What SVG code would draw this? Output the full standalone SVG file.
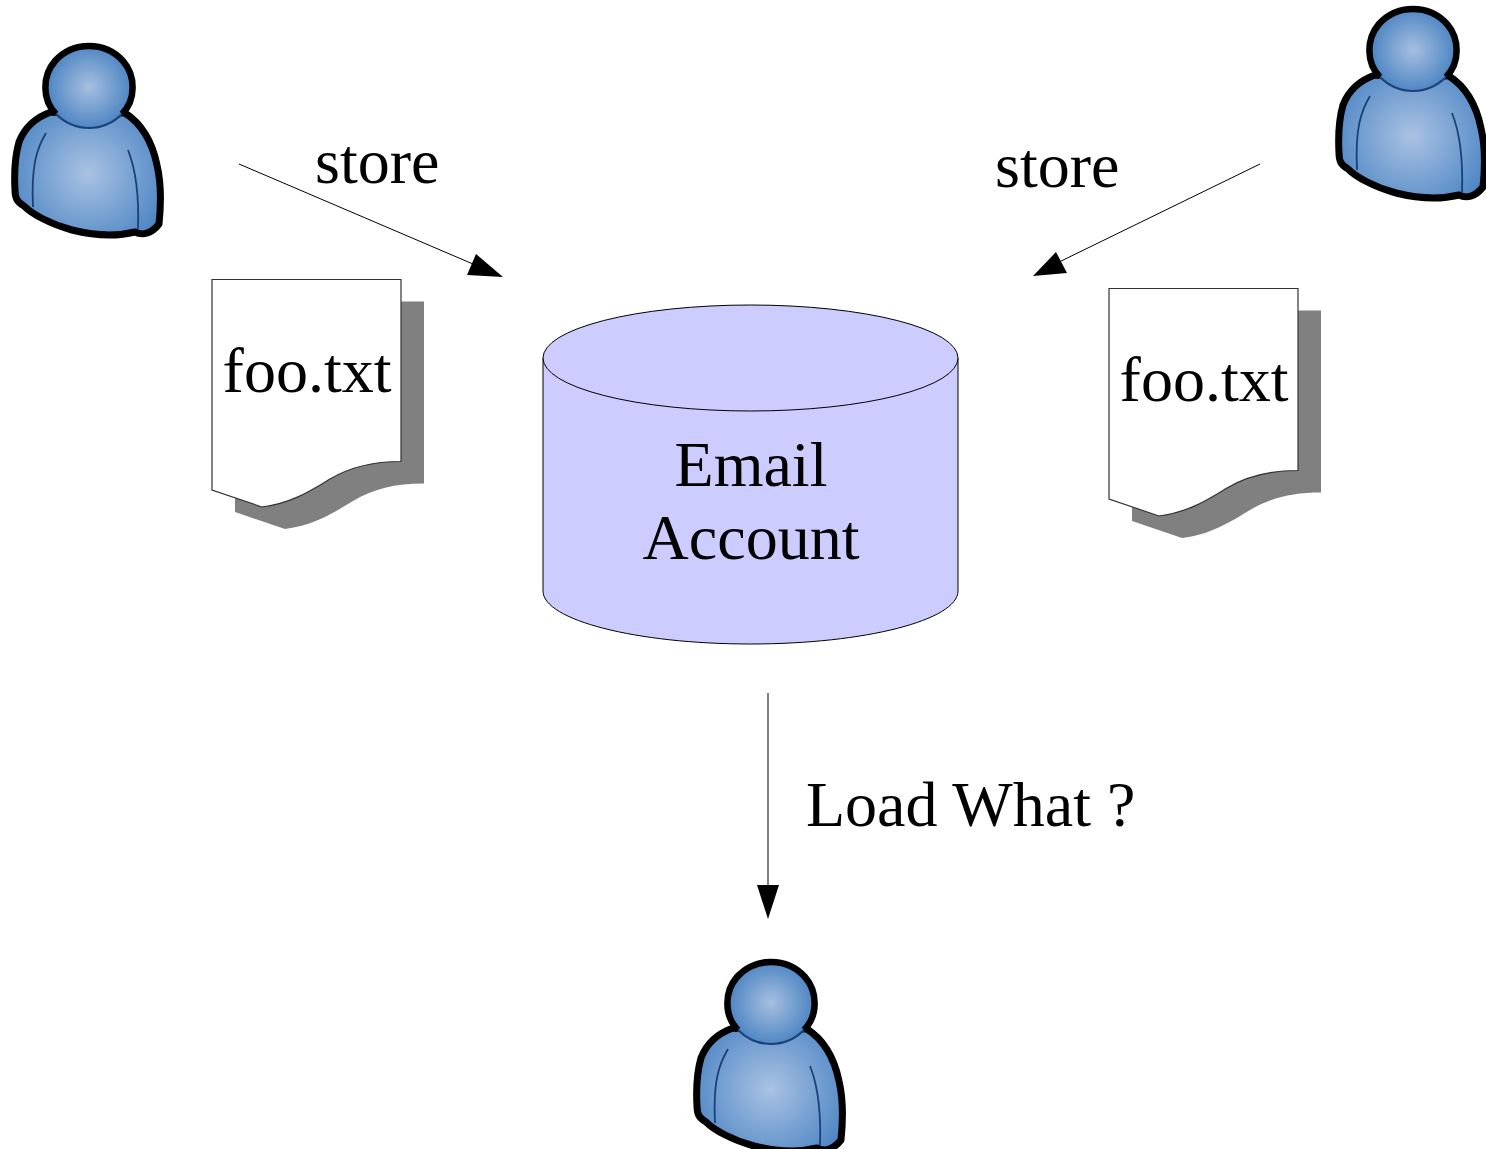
<svg xmlns="http://www.w3.org/2000/svg" width="1486" height="1149" viewBox="0 0 1486 1149">
<style>
text{font-family:"Liberation Serif","Times New Roman",serif;font-size:64px;fill:#000}
.m{text-anchor:middle}
.conn{stroke:#000;stroke-width:1;fill:none}
.tip{fill:#000;stroke:none}
.paper{fill:#fff;stroke:#333;stroke-width:1.2}
.shade{fill:#808080}
.cyl{fill:#ccccff;stroke:#000;stroke-width:1}
</style>
<defs>
<radialGradient id="gh" gradientUnits="userSpaceOnUse" cx="89" cy="87" r="44"><stop offset="0" stop-color="#a6bfe0"/><stop offset="1" stop-color="#4a83c2"/></radialGradient>
<radialGradient id="gb" gradientUnits="userSpaceOnUse" cx="88" cy="173" r="85"><stop offset="0" stop-color="#aac2e2"/><stop offset="1" stop-color="#4c85c4"/></radialGradient>
<filter id="soft" x="-5%" y="-5%" width="110%" height="110%"><feGaussianBlur stdDeviation="0.7"/></filter>
<g id="person" filter="url(#soft)">
<path d="M51 112C34 118 24 129 19 142C15 156 14 172 15 190C15 198 17 202 24 206C32 214 50 224 72 230C92 235 115 237 135 232C143 236 152 233 159 224C161 205 161 182 157 165C152 141 142 124 125 113Z" fill="url(#gb)" stroke="#000" stroke-width="7" stroke-linejoin="round"/>
<path d="M46 133C37 148 31 165 33 207M128 150C136 170 139 200 138 229" fill="none" stroke="#1e3f78" stroke-width="1.800"/>
<ellipse cx="89" cy="87" rx="43" ry="41" fill="url(#gh)"/>
<path d="M56 114C42 100 42 76 55 61C73 41 105 41 123 61C136 76 136 100 122 114" fill="none" stroke="#000" stroke-width="6.500"/>
<path d="M56 114C66 124 76 128 89 128C102 128 112 124 122 114" fill="none" stroke="#1e3f78" stroke-width="2.200"/>
</g>
<path id="docshape" d="M212 279.500H401V461.500C372 461.500 350 467 330 479C310 491 292 503 262 507L212 490Z"/>
</defs>
<g id="connectors">
<path class="conn" d="M239 164L480 267"/><polygon class="tip" points="503,277 467,275 476,254"/>
<path class="conn" d="M1260 164L1055 264"/><polygon class="tip" points="1033,276 1056,252 1067,273"/>
<path class="conn" d="M768 693V890"/><polygon class="tip" points="768,919 757,885 779,885"/>
</g>
<g id="user-left"><use href="#person"/></g>
<g id="user-right"><use href="#person" transform="translate(1324 -37)"/></g>
<g id="user-bottom"><use href="#person" transform="translate(682 916)"/></g>
<g id="doc-left">
<use href="#docshape" class="shade" transform="translate(23 22)"/>
<use href="#docshape" class="paper"/>
<text x="307" y="392" class="m">foo.txt</text>
</g>
<g id="doc-right">
<use href="#docshape" class="shade" transform="translate(920 31)"/>
<use href="#docshape" class="paper" transform="translate(897 9)"/>
<text x="1204" y="401" class="m">foo.txt</text>
</g>
<g id="email-account">
<path class="cyl" d="M543 358V591C543 620 636 644 750.500 644S958 620 958 591V358Z"/>
<ellipse class="cyl" cx="750.500" cy="358" rx="207.500" ry="53"/>
<text x="751" y="486" class="m">Email</text>
<text x="751" y="559" class="m">Account</text>
</g>
<g id="labels">
<text x="315" y="183">store</text>
<text x="995" y="187">store</text>
<text x="806" y="826">Load What ?</text>
</g>
</svg>
